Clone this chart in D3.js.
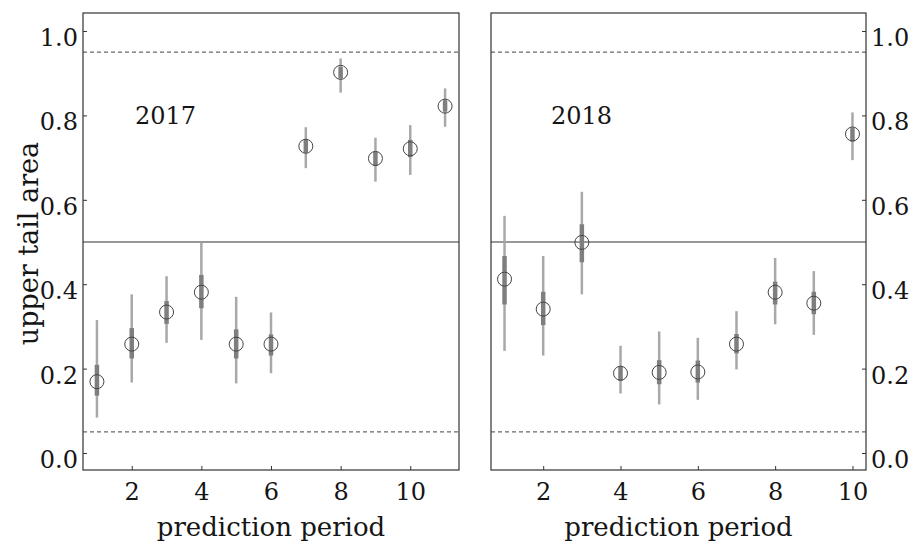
<!DOCTYPE html>
<html>
<head>
<meta charset="utf-8">
<script src="https://cdn.jsdelivr.net/npm/d3@7"></script>
<style>
  html, body { margin: 0; padding: 0; background: #fff; }
  svg text { font-family: "DejaVu Serif", Georgia, serif; fill: #151515; }
</style>
</head>
<body>
<svg id="chart" width="919" height="542"></svg>
<script>
// ── Data: posterior predictive upper tail areas per prediction period ──
const periods2017 = [1, 2, 3, 4, 5, 6, 7, 8, 9, 10, 11];
const mid2017     = [0.169, 0.258, 0.334, 0.381, 0.258, 0.258, 0.727, 0.902, 0.698, 0.721, 0.822];
const outerLo2017 = [0.084, 0.167, 0.261, 0.268, 0.165, 0.189, 0.675, 0.854, 0.643, 0.659, 0.773];
const outerHi2017 = [0.315, 0.376, 0.419, 0.498, 0.370, 0.333, 0.772, 0.935, 0.747, 0.777, 0.864];
const innerLo2017 = [0.136, 0.224, 0.306, 0.343, 0.224, 0.231, 0.712, 0.888, 0.680, 0.701, 0.809];
const innerHi2017 = [0.209, 0.296, 0.360, 0.422, 0.293, 0.281, 0.742, 0.915, 0.714, 0.742, 0.836];

const periods2018 = [1, 2, 3, 4, 5, 6, 7, 8, 9, 10];
const mid2018     = [0.412, 0.341, 0.499, 0.189, 0.191, 0.192, 0.258, 0.381, 0.355, 0.756];
const outerLo2018 = [0.242, 0.231, 0.376, 0.141, 0.115, 0.126, 0.198, 0.305, 0.280, 0.694];
const outerHi2018 = [0.562, 0.467, 0.619, 0.254, 0.288, 0.273, 0.336, 0.462, 0.431, 0.807];
const innerLo2018 = [0.352, 0.303, 0.452, 0.171, 0.163, 0.167, 0.236, 0.352, 0.329, 0.738];
const innerHi2018 = [0.467, 0.382, 0.542, 0.205, 0.220, 0.219, 0.282, 0.406, 0.382, 0.770];

const xTicks = [2, 4, 6, 8, 10];
const yTicks = [0, 0.2, 0.4, 0.6, 0.8, 1.0];
const refSolid = 0.5;
const refDashed = [0.05, 0.95];

const svg = d3.select("#chart");
const panelTop = 13, panelBottom = 470;
const serif = '"DejaVu Serif", Georgia, serif';
const yScale = d3.scaleLinear().domain([-0.0403, 1.0427]).range([panelBottom, panelTop]);

function drawPanel(opts) {
  const { left, right, xDomain, label, labelX, axisSide } = opts;
  const x = d3.scaleLinear().domain(xDomain).range([left, right]);
  const g = svg.append("g");

  // reference lines
  g.append("line")
    .attr("x1", left).attr("x2", right)
    .attr("y1", yScale(refSolid)).attr("y2", yScale(refSolid))
    .attr("stroke", "#333").attr("stroke-width", 1.2);
  g.selectAll(".dash").data(refDashed).join("line")
    .attr("x1", left).attr("x2", right)
    .attr("y1", (v) => yScale(v)).attr("y2", (v) => yScale(v))
    .attr("stroke", "#444").attr("stroke-width", 1)
    .attr("stroke-dasharray", "4,3");

  const rows = opts.periods.map((p, i) => ({
    p, mid: opts.mid[i],
    oLo: opts.outerLo[i], oHi: opts.outerHi[i],
    iLo: opts.innerLo[i], iHi: opts.innerHi[i],
  }));

  // outer interval (thin, light)
  g.selectAll(".outer").data(rows).join("line")
    .attr("x1", (d) => x(d.p)).attr("x2", (d) => x(d.p))
    .attr("y1", (d) => yScale(d.oLo)).attr("y2", (d) => yScale(d.oHi))
    .attr("stroke", "#a8a8a8").attr("stroke-width", 2.5);

  // inner interval (thick, darker)
  g.selectAll(".inner").data(rows).join("line")
    .attr("x1", (d) => x(d.p)).attr("x2", (d) => x(d.p))
    .attr("y1", (d) => yScale(d.iLo)).attr("y2", (d) => yScale(d.iHi))
    .attr("stroke", "#7f7f7f").attr("stroke-width", 4.5);

  g.selectAll(".pt").data(rows).join("circle")
    .attr("cx", (d) => x(d.p)).attr("cy", (d) => yScale(d.mid))
    .attr("r", 7)
    .attr("fill", "none").attr("stroke", "#444").attr("stroke-width", 1);

  // frame
  g.append("rect")
    .attr("x", left).attr("y", panelTop)
    .attr("width", right - left).attr("height", panelBottom - panelTop)
    .attr("fill", "none").attr("stroke", "#333").attr("stroke-width", 1.2);

  // x axis: inward ticks
  const xAxis = d3.axisBottom(x).tickValues(xTicks).tickSize(-4).tickPadding(13);
  const xg = g.append("g").attr("transform", `translate(0,${panelBottom})`).call(xAxis);
  xg.select(".domain").remove();
  xg.selectAll(".tick line").attr("stroke", "#333");
  xg.selectAll(".tick text").attr("font-size", 24).attr("fill", "#151515")
    .style("font-family", serif);

  // y axis on the chosen side
  const yAxis = (axisSide === "left" ? d3.axisLeft(yScale) : d3.axisRight(yScale))
    .tickValues(yTicks).tickFormat(d3.format(".1f")).tickSize(-4).tickPadding(5);
  const yg = g.append("g")
    .attr("transform", `translate(${axisSide === "left" ? left : right},0)`)
    .call(yAxis);
  yg.select(".domain").remove();
  yg.selectAll(".tick line").attr("stroke", "#333");
  yg.selectAll(".tick text").attr("font-size", 24).attr("fill", "#151515")
    .attr("dy", "0.6em")
    .style("font-family", serif);

  g.append("text")
    .attr("x", labelX).attr("y", yScale(0.8) + 9)
    .attr("font-size", 24)
    .text(label);

  g.append("text")
    .attr("x", (left + right) / 2).attr("y", 536)
    .attr("text-anchor", "middle")
    .attr("font-size", 26)
    .text("prediction period");
}

drawPanel({
  left: 83, right: 459, xDomain: [0.6, 11.4],
  periods: periods2017, mid: mid2017,
  outerLo: outerLo2017, outerHi: outerHi2017,
  innerLo: innerLo2017, innerHi: innerHi2017,
  label: "2017", labelX: 135, axisSide: "left",
});

drawPanel({
  left: 491, right: 866, xDomain: [0.65, 10.35],
  periods: periods2018, mid: mid2018,
  outerLo: outerLo2018, outerHi: outerHi2018,
  innerLo: innerLo2018, innerHi: innerHi2018,
  label: "2018", labelX: 551, axisSide: "right",
});

svg.append("text")
  .attr("transform", `translate(38,${(panelTop + panelBottom) / 2 + 2}) rotate(-90)`)
  .attr("text-anchor", "middle")
  .attr("font-size", 27)
  .text("upper tail area");
</script>
</body>
</html>
